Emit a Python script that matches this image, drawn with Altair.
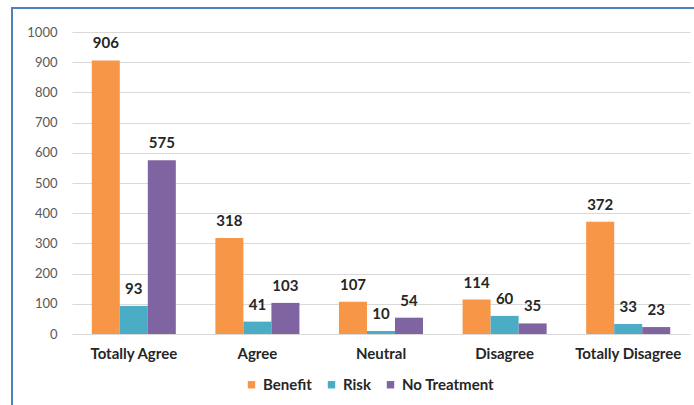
import altair as alt
import pandas as pd

categories = ["Totally Agree", "Agree", "Neutral", "Disagree", "Totally Disagree"]
series = ["Benefit", "Risk", "No Treatment"]
benefit = [906, 318, 107, 114, 372]
risk = [93, 41, 10, 60, 33]
no_treatment = [575, 103, 54, 35, 23]
colors = ["#F79646", "#4BACC6", "#8064A2"]
y_ticks = [0, 100, 200, 300, 400, 500, 600, 700, 800, 900, 1000]

rows = []
for s, vals in zip(series, [benefit, risk, no_treatment]):
    for c, v in zip(categories, vals):
        rows.append({"category": c, "series": s, "value": v})
df = pd.DataFrame(rows)

FONT = "Lato"

x = alt.X("category:N", sort=categories, title=None,
          scale=alt.Scale(paddingInner=0.32, paddingOuter=0.16),
          axis=alt.Axis(labelAngle=0, domain=False, ticks=False, labelPadding=12,
                        labelFontWeight="bold", labelColor="#262626", labelFontSize=15,
                        labelFont=FONT))
y = alt.Y("value:Q", title=None,
          scale=alt.Scale(domain=[0, 1000], nice=False),
          axis=alt.Axis(values=y_ticks, format="d", labelOverlap=False, domain=False,
                        ticks=False, labelPadding=15,
                        labelColor="#595959", labelFontSize=13, labelFont=FONT,
                        gridColor="#d9d9d9", gridWidth=1))
xo = alt.XOffset("series:N", sort=series)

base = alt.Chart(df)

bars = base.mark_bar().encode(
    x=x, y=y, xOffset=xo,
    color=alt.Color("series:N", sort=series,
                    scale=alt.Scale(domain=series, range=colors),
                    legend=alt.Legend(title=None, orient="none", direction="horizontal",
                                      legendX=172, legendY=345, symbolType="square",
                                      symbolSize=55, labelFontSize=15, labelFont=FONT,
                                      labelFontWeight="bold", labelColor="#262626",
                                      columnPadding=12, labelOffset=4)),
)

labels = base.mark_text(baseline="bottom", dy=-9, fontSize=15, fontWeight="bold",
                        font=FONT, color="#262626").encode(
    x=x, y=y, xOffset=xo,
    text="value:Q",
)

border = alt.Chart(pd.DataFrame({"a": [0]})).mark_rect(
    fill=None, stroke="#4F81BD", strokeWidth=2).encode(
    x=alt.value(-60), x2=alt.value(630), y=alt.value(-24), y2=alt.value(385))

chart = alt.layer(bars, labels, border).properties(
    width=618, height=302,
    autosize=alt.AutoSizeParams(type="none"),
    padding={"left": 72, "top": 32, "right": 4, "bottom": 71},
    background="white",
).configure_view(stroke=None)

chart.save("out.html", embed_options={"renderer": "svg", "actions": False})
